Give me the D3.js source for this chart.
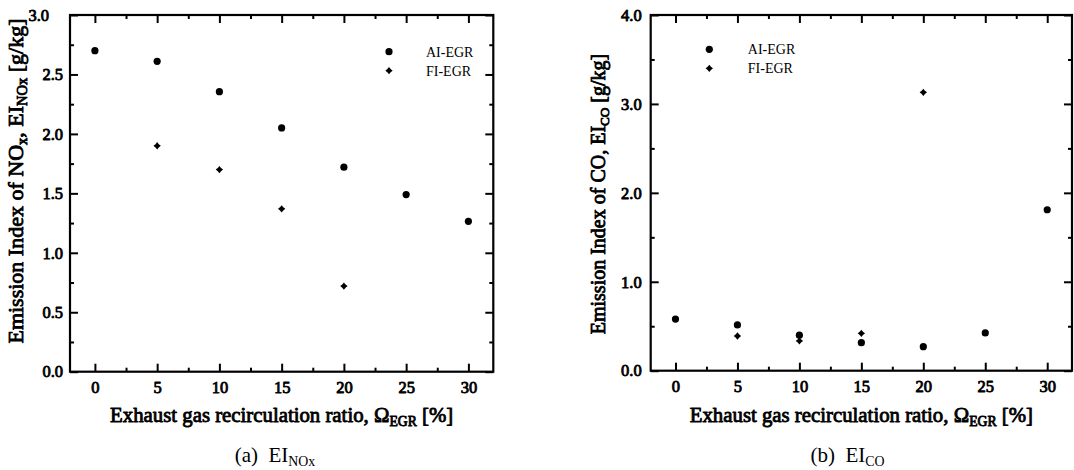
<!DOCTYPE html>
<html>
<head>
<meta charset="utf-8">
<script src="https://cdn.jsdelivr.net/npm/d3@7"></script>
<style>
  body { margin: 0; background: #fff; }
  svg text { font-family: "Liberation Serif", "Times New Roman", serif; font-weight: normal; }
  svg text.bold { stroke: #000; stroke-width: 0.85px; stroke-linejoin: round; }
</style>
</head>
<body>
<svg id="fig" width="1074" height="470"></svg>
<script>
// Data
const egrAI = [0, 5, 10, 15, 20, 25, 30];
const egrFI = [5, 10, 15, 20];
const noxAI = [2.70, 2.61, 2.355, 2.05, 1.72, 1.49, 1.265];
const noxFI = [1.90, 1.70, 1.37, 0.72];
const coAI = [0.58, 0.515, 0.40, 0.315, 0.27, 0.425, 1.81];
const coFI = [0.39, 0.335, 0.42, 3.13];
const seriesNames = ["AI-EGR", "FI-EGR"];
const xMajor = [0, 5, 10, 15, 20, 25, 30];
const xMinor = [2.5, 7.5, 12.5, 17.5, 22.5, 27.5];
const noxMajor = [0, 0.5, 1.0, 1.5, 2.0, 2.5, 3.0];
const noxMinor = [0.25, 0.75, 1.25, 1.75, 2.25, 2.75];
const coMajor = [0, 1, 2, 3, 4];
const coMinor = [0.5, 1.5, 2.5, 3.5];

const svg = d3.select("#fig");

// small 4-point marker like the original
const diamond = {
    draw(ctx, size) {
        const a = Math.sqrt(size) / 2;
        const b = a * 0.45;
        ctx.moveTo(0, -a);
        ctx.lineTo(b, -b);
        ctx.lineTo(a, 0);
        ctx.lineTo(b, b);
        ctx.lineTo(0, a);
        ctx.lineTo(-b, b);
        ctx.lineTo(-a, 0);
        ctx.lineTo(-b, -b);
        ctx.closePath();
    }
};
const circleSym = d3.symbol(d3.symbolCircle, Math.PI * 3.6 * 3.6);
const diamondSym = d3.symbol(diamond, 54);

function styleAxis(sel) {
    sel.attr("font-family", null).attr("font-size", null);
    sel.select(".domain").remove();
    sel.selectAll(".tick line").attr("stroke", "#000").attr("stroke-width", 2);
    sel.selectAll(".tick text")
        .attr("class", "bold")
        .attr("fill", "#000")
        .style("font-size", "16.5px");
}

function addSub(text, parts) {
    // parts: [string, isSub]
    parts.forEach(([s, sub], i) => {
        const prevSub = i > 0 && parts[i - 1][1];
        const t = text.append("tspan").text(s);
        if (sub) t.style("font-size", "0.66em").attr("dy", prevSub ? 0 : 4);
        else if (prevSub) t.attr("dy", -4);
    });
}

function drawPanel(cfg) {
    const w = cfg.width, h = cfg.height;
    const g = svg.append("g").attr("transform", `translate(${cfg.left},${cfg.top})`);

    const x = d3.scaleLinear().domain([-2, 32]).range([0, w]);
    const y = d3.scaleLinear().domain([0, cfg.yMax]).range([h, 0]);

    // axes, ticks pointing inward on all sides
    g.append("g").attr("transform", `translate(0,${h})`)
        .call(d3.axisBottom(x).tickValues(xMajor).tickSize(-8).tickPadding(10).tickFormat(d3.format("d")))
        .call(styleAxis);
    g.append("g").attr("transform", `translate(0,${h})`)
        .call(d3.axisBottom(x).tickValues(xMinor).tickSize(-4).tickFormat(""))
        .call(styleAxis);
    g.append("g")
        .call(d3.axisTop(x).tickValues(xMajor).tickSize(-8).tickFormat(""))
        .call(styleAxis);
    g.append("g")
        .call(d3.axisTop(x).tickValues(xMinor).tickSize(-4).tickFormat(""))
        .call(styleAxis);

    const yAxis = g.append("g")
        .call(d3.axisLeft(y).tickValues(cfg.yMajor).tickSize(-8).tickPadding(cfg.yPad).tickFormat(d3.format(".1f")))
        .call(styleAxis);
    if (cfg.topShift) {
        yAxis.selectAll(".tick text").filter(d => d === cfg.yMax).attr("dx", -cfg.topShift);
    }
    g.append("g")
        .call(d3.axisLeft(y).tickValues(cfg.yMinor).tickSize(-4).tickFormat(""))
        .call(styleAxis);
    g.append("g").attr("transform", `translate(${w},0)`)
        .call(d3.axisRight(y).tickValues(cfg.yMajor).tickSize(-8).tickFormat(""))
        .call(styleAxis);
    g.append("g").attr("transform", `translate(${w},0)`)
        .call(d3.axisRight(y).tickValues(cfg.yMinor).tickSize(-4).tickFormat(""))
        .call(styleAxis);

    // frame
    g.append("rect")
        .attr("width", w).attr("height", h)
        .attr("fill", "none").attr("stroke", "#000").attr("stroke-width", 2.2);

    // points
    g.selectAll(".ai").data(egrAI.map((e, i) => [e, cfg.ai[i]]))
        .enter().append("path")
        .attr("d", circleSym)
        .attr("transform", d => `translate(${x(d[0])},${y(d[1])})`)
        .attr("fill", "#000");
    g.selectAll(".fi").data(egrFI.map((e, i) => [e, cfg.fi[i]]))
        .enter().append("path")
        .attr("d", diamondSym)
        .attr("transform", d => `translate(${x(d[0])},${y(d[1])})`)
        .attr("fill", "#000");

    // legend
    const leg = svg.append("g").attr("transform", `translate(${cfg.legX},${cfg.legY})`);
    seriesNames.forEach((name, i) => {
        leg.append("path")
            .attr("d", i === 0 ? circleSym : diamondSym)
            .attr("transform", `translate(0,${i * 19})`)
            .attr("fill", "#000");
        leg.append("text")
            .attr("x", cfg.legGap).attr("y", i * 19 + 5)
            .style("font-size", "14px")
            .attr("fill", "#000")
            .text(name);
    });

    // x label
    const xl = svg.append("text")
        .attr("class", "bold")
        .attr("x", cfg.left + w / 2).attr("y", 422)
        .attr("text-anchor", "middle")
        .style("font-size", "20.8px")
        .attr("fill", "#000");
    addSub(xl, [["Exhaust gas recirculation ratio, \u03A9", false], ["EGR", true], [" [%]", false]]);

    // y label
    const yl = svg.append("text")
        .attr("class", "bold")
        .attr("transform", `translate(${cfg.ylabX},${cfg.ylabY}) rotate(-90)`)
        .attr("text-anchor", "middle")
        .style("font-size", cfg.ylabSize)
        .attr("fill", "#000");
    addSub(yl, cfg.ylabel);

    // caption
    const cap = svg.append("text")
        .attr("x", cfg.capX).attr("y", 461.5)
        .attr("text-anchor", "middle")
        .style("font-size", "21px")
        .attr("fill", "#000");
    addSub(cap, cfg.caption);
}

drawPanel({
    left: 70, top: 15, width: 423.3, height: 356.7,
    yMax: 3.0, yMajor: noxMajor, yMinor: noxMinor, yPad: 7, topShift: 14,
    ai: noxAI, fi: noxFI,
    legX: 389, legY: 51.7, legGap: 37,
    ylabX: 22.5, ylabY: 181, ylabSize: "22px",
    ylabel: [["Emission Index of NO", false], ["x", true], [", EI", false], ["NOx", true], [" [g/kg]", false]],
    capX: 275,
    caption: [["(a)\u00A0\u00A0EI", false], ["NOx", true]]
});

drawPanel({
    left: 650.7, top: 15, width: 421.3, height: 355.7,
    yMax: 4.0, yMajor: coMajor, yMinor: coMinor, yPad: 9, topShift: 0,
    ai: coAI, fi: coFI,
    legX: 709.3, legY: 49.3, legGap: 38.5,
    ylabX: 604.5, ylabY: 194, ylabSize: "20px",
    ylabel: [["Emission Index of CO, EI", false], ["CO", true], [" [g/kg]", false]],
    capX: 847.5,
    caption: [["(b)\u00A0\u00A0EI", false], ["CO", true]]
});
</script>
</body>
</html>
